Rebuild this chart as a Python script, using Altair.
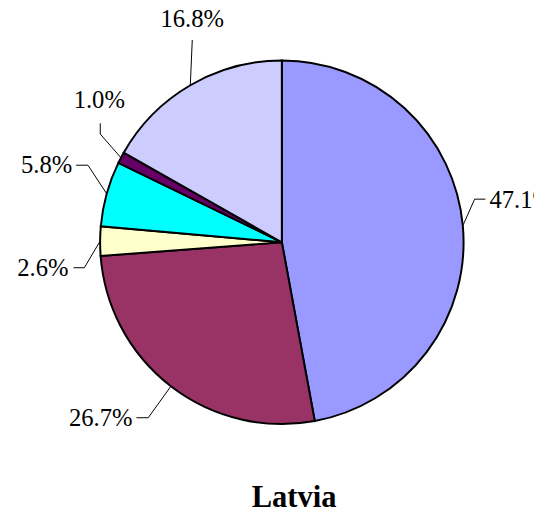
import math
import altair as alt
import pandas as pd

# ---- data ----
categories = ["Slice 1", "Slice 2", "Slice 3", "Slice 4", "Slice 5", "Slice 6"]
values = [47.1, 26.7, 2.6, 5.8, 1.0, 16.8]
colors = ["#9999FF", "#993366", "#FFFFCC", "#00FFFF", "#660066", "#CCCCFF"]
title_text = "Latvia"

# ---- layout (pixels, chart coordinates) ----
W, H = 534, 505
CX, CY, R = 278, 234, 184.5
# leader-line offsets from the slice edge point, then text offset and alignment
LAYOUT = {
    "Slice 1": dict(pts=[(12, -27), (11, 0)], txt=(4, 1), align="left"),
    "Slice 2": dict(pts=[(-23, 32), (-12, 0)], txt=(-4, 0), align="right"),
    "Slice 3": dict(pts=[(-16, 27), (-11, 0)], txt=(-5, 0), align="right"),
    "Slice 4": dict(pts=[(-19, -29), (-12, 0)], txt=(-4, 0), align="right"),
    "Slice 5": dict(pts=[(-21, -24), (0, -11)], txt=(-1, -23), align="center"),
    "Slice 6": dict(pts=[(2, -46)], txt=(0, -21), align="center"),
}

total = sum(values)
pie_df = pd.DataFrame({"cat": categories, "value": values, "idx": range(len(values))})

lead_rows, text_rows = [], []
cum = 0.0
for c, v in zip(categories, values):
    mid = (cum + v / 2) / total * 2 * math.pi
    cum += v
    ex, ey = CX + R * math.sin(mid), CY - R * math.cos(mid)
    lay = LAYOUT[c]
    px, py = ex, ey
    lead_rows.append({"cat": c, "seq": 0, "x": px, "y": py})
    for k, (dx, dy) in enumerate(lay["pts"]):
        px, py = px + dx, py + dy
        lead_rows.append({"cat": c, "seq": k + 1, "x": px, "y": py})
    tx, ty = px + lay["txt"][0], py + lay["txt"][1]
    text_rows.append({"cat": c, "x": tx, "y": ty, "label": f"{v:.1f}%", "align": lay["align"]})

lead_df = pd.DataFrame(lead_rows)
text_df = pd.DataFrame(text_rows)

pie = alt.Chart(pie_df).mark_arc(stroke="black", strokeWidth=2).encode(
    theta=alt.Theta("value:Q", stack=True),
    order=alt.Order("idx:Q"),
    color=alt.Color("cat:N", scale=alt.Scale(domain=categories, range=colors), legend=None),
    x=alt.value(CX),
    y=alt.value(CY),
    radius=alt.value(R),
)

leader = alt.Chart(lead_df).mark_line(color="black", strokeWidth=1).encode(
    x=alt.X("x:Q", scale=None, axis=None),
    y=alt.Y("y:Q", scale=None, axis=None),
    detail="cat:N",
    order="seq:Q",
)

text_layers = []
for a in ["left", "right", "center"]:
    text_layers.append(
        alt.Chart(text_df[text_df["align"] == a]).mark_text(
            align=a, baseline="middle", font="Liberation Serif", fontSize=25, color="black"
        ).encode(
            x=alt.X("x:Q", scale=None, axis=None),
            y=alt.Y("y:Q", scale=None, axis=None),
            text="label:N",
        )
    )

title = alt.Chart(pd.DataFrame({"t": [title_text]})).mark_text(
    font="Liberation Serif", fontSize=31, fontWeight="bold", color="black", baseline="middle"
).encode(x=alt.value(290.5), y=alt.value(494), text="t:N")

chart = alt.layer(pie, leader, *text_layers, title).properties(
    width=W, height=H, autosize=alt.AutoSizeParams(type="none"), padding=0
).configure_view(stroke=None)

chart.save("out.html", embed_options={"renderer": "svg", "actions": False})
